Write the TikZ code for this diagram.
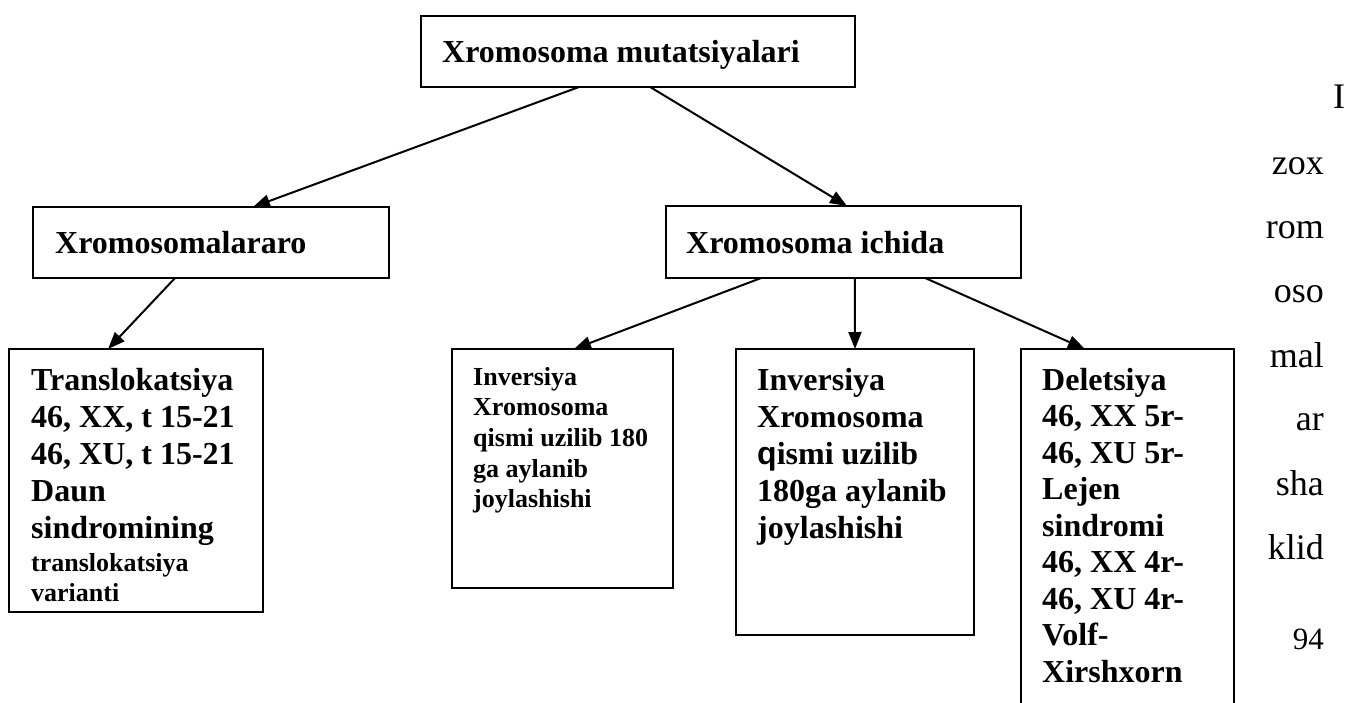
\documentclass[tikz,border=0pt]{standalone}
\usepackage{fontspec}
\setmainfont{Liberation Serif}
\setsansfont{Liberation Sans}
\usetikzlibrary{arrows.meta,calc}
\begin{document}
\begin{tikzpicture}[x=1pt,y={(0pt,-1pt)},
  box/.style={draw,line width=1.6pt,rectangle,inner sep=0pt,outer sep=0pt,anchor=north west},
  arr/.style={line width=2pt,-{Triangle[length=17pt,width=13pt]}},
  bigtxt/.style={inner sep=0pt,anchor=base west,font=\fontsize{32}{37}\selectfont\bfseries},
  smalltxt/.style={inner sep=0pt,anchor=base west,font=\fontsize{26}{30.7}\selectfont\bfseries},
  sidetxt/.style={inner sep=0pt,anchor=base east,font=\fontsize{36}{40}\selectfont}
]
\useasboundingbox (0,0) rectangle (1348,702);
\clip (0,0) rectangle (1348,702);

% boxes
\node[box,minimum width=434pt,minimum height=71pt] (top) at (421,16) {};
\node[box,minimum width=356pt,minimum height=71pt] (inter) at (33,207) {};
\node[box,minimum width=355pt,minimum height=72pt] (intra) at (666,206) {};
\node[box,minimum width=254pt,minimum height=263pt] (trans) at (9,349) {};
\node[box,minimum width=221pt,minimum height=239pt] (inv1) at (452,349) {};
\node[box,minimum width=238pt,minimum height=286pt] (inv2) at (736,349) {};
\node[box,minimum width=213pt,minimum height=400pt] (del) at (1021,349) {};

% texts
\node[bigtxt] (ttop) at (442,62) {Xromosoma mutatsiyalari};
\node[bigtxt] (tinter) at (55,253) {Xromosomalararo};
\node[bigtxt] (tintra) at (686,253) {Xromosoma ichida};
\node[bigtxt] (ttrans) at (31,390) {\parbox[t]{230pt}{\raggedright
  Translokatsiya\\46, XX, t 15-21\\46, XU, t 15-21\\Daun\\sindromining\par
  \fontsize{26}{33}\selectfont translokatsiya\\[-3pt]varianti}};
\node[smalltxt] (tinv1) at (473,385) {\parbox[t]{200pt}{\raggedright
  Inversiya\\Xromosoma\\qismi uzilib 180\\ga aylanib\\joylashishi}};
\node[bigtxt] (tinv2) at (757,390) {\parbox[t]{215pt}{\raggedright
  Inversiya\\Xromosoma\\{\sffamily q}ismi uzilib\\180ga aylanib\\joylashishi}};
\node[bigtxt,font=\fontsize{32}{36.5}\selectfont\bfseries] (tdel) at (1042,390) {\parbox[t]{190pt}{\raggedright
  Deletsiya\\46, XX 5r-\\46, XU 5r-\\Lejen\\sindromi\\46, XX 4r-\\46, XU 4r-\\Volf-\\Xirshxorn}};

% side text
\node[inner sep=0pt,anchor=base west,font=\fontsize{36}{40}\selectfont] (s0) at (1333,108) {I};
\node[sidetxt] (s1) at (1324,174) {zox};
\node[sidetxt] (s2) at (1324,238) {rom};
\node[sidetxt] (s3) at (1324,302) {oso};
\node[sidetxt] (s4) at (1324,367) {mal};
\node[sidetxt] (s5) at (1324,430) {ar};
\node[sidetxt] (s6) at (1324,495) {sha};
\node[sidetxt] (s7) at (1324,559) {klid};
\node[sidetxt,font=\fontsize{31}{35}\selectfont] (s8) at (1324,649) {94};

% connectors
\draw[arr] ($(top.south west)!0.364!(top.south east)$) -- ($(inter.north west)!0.618!(inter.north east)$);
\draw[arr] ($(top.south west)!0.528!(top.south east)$) -- ($(intra.north west)!0.51!(intra.north east)$);
\draw[arr] ($(inter.south west)!0.399!(inter.south east)$) -- ($(trans.north west)!0.39!(trans.north east)$);
\draw[arr] ($(intra.south west)!0.268!(intra.south east)$) -- ($(inv1.north west)!0.552!(inv1.north east)$);
\draw[arr] ($(intra.south west)!0.532!(intra.south east)$) -- ($(inv2.north west)!0.5!(inv2.north east)$);
\draw[arr] ($(intra.south west)!0.73!(intra.south east)$) -- ($(del.north west)!0.30!(del.north east)$);
\end{tikzpicture}
\end{document}
